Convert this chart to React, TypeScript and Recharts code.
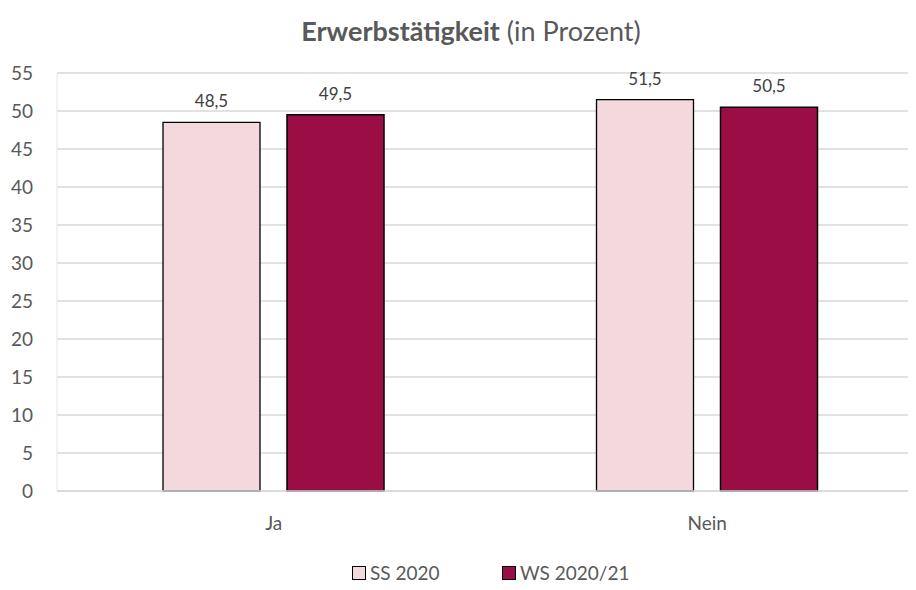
import React from 'react'
import { BarChart, Bar, XAxis, YAxis, CartesianGrid, Legend, LabelList } from 'recharts'

const categories = ['Ja', 'Nein']
const ss2020 = [48.5, 51.5]
const ws2021 = [49.5, 50.5]
const yTicks = [0, 5, 10, 15, 20, 25, 30, 35, 40, 45, 50, 55]

const data = categories.map((c, i) => ({ name: c, ss: ss2020[i], ws: ws2021[i] }))

const FONT = 'Lato, "Open Sans", sans-serif'
const PINK = '#f3d8dd'
const RED = '#9b0d45'

const fmt = (v: number) => String(v).replace('.', ',')

const YTick = ({ y, payload }: any) => (
  <text x={33} y={y} dy={7} textAnchor="end" fill="#595959" fontSize={19} fontFamily={FONT}>
    {payload.value}
  </text>
)

const XTick = ({ x, y, payload }: any) => (
  <text x={x} y={y} dy={31} textAnchor="middle" fill="#595959" fontSize={19} fontFamily={FONT}>
    {payload.value}
  </text>
)

const legendItems = [
  { label: 'SS 2020', color: PINK },
  { label: 'WS 2020/21', color: RED },
]

const LegendContent = () => (
  <div style={{ display: 'flex', justifyContent: 'flex-start', paddingLeft: 352, paddingTop: 18, fontFamily: FONT, fontSize: 19, color: '#595959' }}>
    {legendItems.map((it, i) => (
      <div key={it.label} style={{ display: 'flex', alignItems: 'center', width: i === 0 ? 150 : 'auto' }}>
        <span style={{ display: 'inline-block', width: 12, height: 12, background: it.color, border: '1.5px solid #000', marginRight: 4 }} />
        <span>{it.label}</span>
      </div>
    ))}
  </div>
)

export default function App() {
  return (
    <div style={{ position: 'relative', margin: -8, width: 916, height: 590, overflow: 'hidden', background: '#fff' }}>
      <div style={{ position: 'absolute', top: 14, left: 0, width: 942, textAlign: 'center', fontFamily: FONT, fontSize: 27, color: '#595959' }}>
        <b>Erwerbstätigkeit</b> (in Prozent)
      </div>
      <BarChart
        width={930}
        height={590}
        data={data}
        margin={{ top: 73, right: 6, bottom: 0, left: 0 }}
        barSize={97}
        barGap={27}
      >
        <CartesianGrid vertical={false} stroke="#d9d9d9" strokeWidth={1.5} />
        <XAxis
          dataKey="name"
          axisLine={{ stroke: '#d9d9d9', strokeWidth: 1.5 }}
          tickLine={false}
          tick={<XTick />}
          height={52}
        />
        <YAxis
          domain={[0, 55]}
          ticks={yTicks}
          interval={0}
          width={57}
          axisLine={{ stroke: '#e6e6e6', strokeWidth: 1 }}
          tickLine={false}
          tick={<YTick />}
        />
        <Legend verticalAlign="bottom" height={47} content={<LegendContent />} />
        <Bar dataKey="ss" name="SS 2020" fill={PINK} stroke="#000" strokeWidth={1.3} isAnimationActive={false}>
          <LabelList dataKey="ss" position="top" offset={15} formatter={fmt} fill="#404040" fontSize={17} fontFamily={FONT} />
        </Bar>
        <Bar dataKey="ws" name="WS 2020/21" fill={RED} stroke="#000" strokeWidth={1.5} isAnimationActive={false}>
          <LabelList dataKey="ws" position="top" offset={15} formatter={fmt} fill="#404040" fontSize={17} fontFamily={FONT} />
        </Bar>
      </BarChart>
    </div>
  )
}
